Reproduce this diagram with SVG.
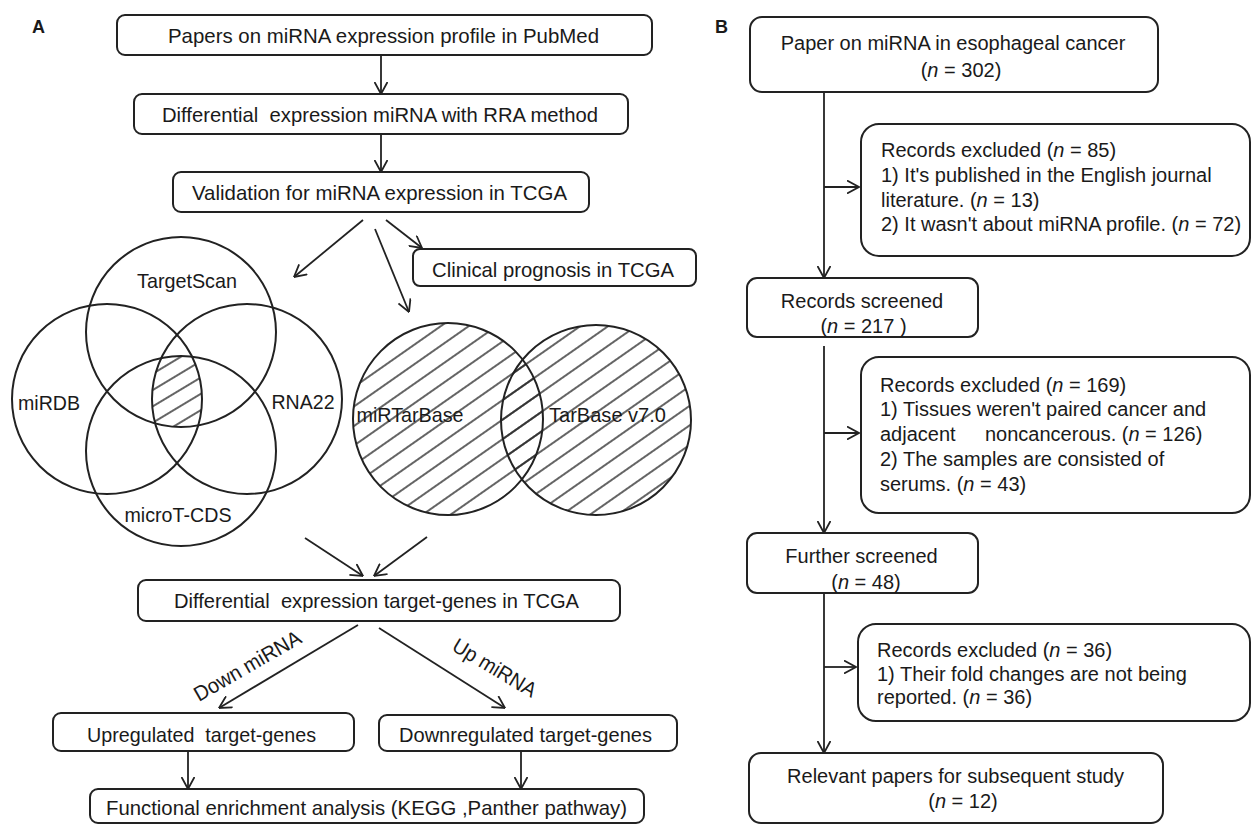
<svg xmlns="http://www.w3.org/2000/svg" width="1252" height="824" viewBox="0 0 1252 824">
<style>
.t{font-family:"Liberation Sans",Arial,sans-serif;font-size:20px;fill:#1a1a1a}
.ta{font-family:"Liberation Sans",Arial,sans-serif;font-size:21px;fill:#1a1a1a}
.m{text-anchor:middle}
.lbl{font-family:"Liberation Sans",Arial,sans-serif;font-size:18px;font-weight:bold;fill:#1a1a1a}
.box{fill:#fff;stroke:#222;stroke-width:2}
.ring{fill:none;stroke:#222;stroke-width:2}
.cn{fill:none;stroke:#222;stroke-width:1.8}
.hl{stroke:#222;stroke-width:1.4}
.i{font-style:italic}
</style>
<defs>
<marker id="ah" markerUnits="userSpaceOnUse" viewBox="0 0 13 14" refX="12.5" refY="7" markerWidth="13" markerHeight="14" orient="auto">
<path d="M0.5,0.5 L12.5,7 L0.5,13.5" fill="none" stroke="#222" stroke-width="1.8"/>
</marker>
<pattern id="hatchA" patternUnits="userSpaceOnUse" width="16" height="16" patternTransform="rotate(-35)">
<line class="hl" x1="0" y1="8" x2="16" y2="8"/>
</pattern>
<pattern id="hatchL" patternUnits="userSpaceOnUse" width="14" height="14" patternTransform="rotate(-31)">
<line class="hl" x1="0" y1="7" x2="14" y2="7"/>
</pattern>
<clipPath id="cT"><circle cx="181" cy="332" r="95"/></clipPath>
<clipPath id="cD"><circle cx="107" cy="399" r="95"/></clipPath>
<clipPath id="cR"><circle cx="247" cy="399" r="95"/></clipPath>
<clipPath id="cM"><circle cx="181" cy="451" r="95"/></clipPath>
</defs>
<rect width="1252" height="824" fill="#fff"/>

<text class="lbl" x="32" y="33">A</text>
<text class="lbl" x="715" y="33">B</text>

<g id="connectors">
<line class="cn" x1="381" y1="55" x2="381" y2="94" marker-end="url(#ah)"/>
<line class="cn" x1="381" y1="134" x2="381" y2="172" marker-end="url(#ah)"/>
<line class="cn" x1="363" y1="220" x2="294" y2="277" marker-end="url(#ah)"/>
<line class="cn" x1="386" y1="220" x2="422" y2="248" marker-end="url(#ah)"/>
<line class="cn" x1="375" y1="229" x2="409" y2="312" marker-end="url(#ah)"/>
<line class="cn" x1="305" y1="538" x2="363" y2="576" marker-end="url(#ah)"/>
<line class="cn" x1="427" y1="537" x2="374" y2="576" marker-end="url(#ah)"/>
<line class="cn" x1="358" y1="625" x2="219" y2="708" marker-end="url(#ah)"/>
<line class="cn" x1="379" y1="628" x2="505" y2="708" marker-end="url(#ah)"/>
<line class="cn" x1="188" y1="751" x2="188" y2="789" marker-end="url(#ah)"/>
<line class="cn" x1="521" y1="751" x2="521" y2="789" marker-end="url(#ah)"/>
<text class="ta m" transform="translate(251,672) rotate(-30)" textLength="120" lengthAdjust="spacingAndGlyphs">Down miRNA</text>
<text class="ta m" transform="translate(491,674) rotate(31)" textLength="94" lengthAdjust="spacingAndGlyphs">Up miRNA</text>

<line class="cn" x1="824" y1="92" x2="824" y2="278" marker-end="url(#ah)"/>
<line class="cn" x1="824" y1="187" x2="859" y2="187" marker-end="url(#ah)"/>
<line class="cn" x1="824" y1="346" x2="824" y2="533" marker-end="url(#ah)"/>
<line class="cn" x1="824" y1="433" x2="859" y2="433" marker-end="url(#ah)"/>
<line class="cn" x1="824" y1="593" x2="824" y2="753" marker-end="url(#ah)"/>
<line class="cn" x1="824" y1="667" x2="856" y2="667" marker-end="url(#ah)"/>
</g>

<g id="a-papers">
<rect class="box" x="117" y="15" width="535" height="40" rx="8"/>
<text class="ta m" x="383.5" y="43" textLength="431" lengthAdjust="spacingAndGlyphs">Papers on miRNA expression profile in PubMed</text>
</g>
<g id="a-rra">
<rect class="box" x="134" y="94" width="494" height="40" rx="8"/>
<text class="ta m" x="380" y="122" textLength="436" lengthAdjust="spacingAndGlyphs">Differential&#160; expression miRNA with RRA method</text>
</g>
<g id="a-validation">
<rect class="box" x="173" y="172" width="416" height="40" rx="8"/>
<text class="ta m" x="379.5" y="200" textLength="375" lengthAdjust="spacingAndGlyphs">Validation for miRNA expression in TCGA</text>
</g>
<g id="a-clinical">
<rect class="box" x="413" y="249" width="283" height="37" rx="7"/>
<text class="ta m" x="553" y="277" textLength="242" lengthAdjust="spacingAndGlyphs">Clinical prognosis in TCGA</text>
</g>

<g id="a-venn4">
<g clip-path="url(#cT)"><g clip-path="url(#cD)"><g clip-path="url(#cR)">
<rect clip-path="url(#cM)" x="140" y="340" width="80" height="100" fill="url(#hatchL)"/>
</g></g></g>
<circle class="ring" cx="181" cy="332" r="95"/>
<circle class="ring" cx="107" cy="399" r="95"/>
<circle class="ring" cx="247" cy="399" r="95"/>
<circle class="ring" cx="181" cy="451" r="95"/>
<text class="ta m" x="187" y="288" textLength="100" lengthAdjust="spacingAndGlyphs">TargetScan</text>
<text class="ta m" x="49" y="410" textLength="62" lengthAdjust="spacingAndGlyphs">miRDB</text>
<text class="ta m" x="303" y="409" textLength="63" lengthAdjust="spacingAndGlyphs">RNA22</text>
<text class="ta m" x="178" y="522" textLength="107" lengthAdjust="spacingAndGlyphs">microT-CDS</text>
</g>

<g id="a-venn2">
<ellipse cx="448" cy="419" rx="95" ry="96" fill="url(#hatchA)"/>
<ellipse cx="596" cy="420" rx="95" ry="95" fill="url(#hatchA)"/>
<ellipse class="ring" cx="448" cy="419" rx="95" ry="96"/>
<ellipse class="ring" cx="596" cy="420" rx="95" ry="95"/>
<text class="ta m" x="410" y="422" textLength="107" lengthAdjust="spacingAndGlyphs">miRTarBase</text>
<text class="ta m" x="607.5" y="422" textLength="117" lengthAdjust="spacingAndGlyphs">TarBase v7.0</text>
</g>

<g id="a-targets">
<rect class="box" x="138" y="580" width="482" height="41" rx="8"/>
<text class="ta m" x="376.5" y="608" textLength="405" lengthAdjust="spacingAndGlyphs">Differential&#160; expression target-genes in TCGA</text>
</g>
<g id="a-up">
<rect class="box" x="53" y="713" width="301" height="38" rx="8"/>
<text class="ta m" x="201.5" y="742" textLength="229" lengthAdjust="spacingAndGlyphs">Upregulated&#160; target-genes</text>
</g>
<g id="a-down">
<rect class="box" x="379" y="715" width="298" height="36" rx="8"/>
<text class="ta m" x="525.5" y="742" textLength="253" lengthAdjust="spacingAndGlyphs">Downregulated target-genes</text>
</g>
<g id="a-functional">
<rect class="box" x="90" y="789" width="554" height="34" rx="8"/>
<text class="ta m" x="366.5" y="815" textLength="521" lengthAdjust="spacingAndGlyphs">Functional enrichment analysis (KEGG ,Panther pathway)</text>
</g>

<g id="b-papers">
<rect class="box" x="750" y="17" width="408" height="75" rx="12"/>
<text class="t m" x="953" y="50">Paper on miRNA in esophageal cancer</text>
<text class="t m" x="961" y="77">(<tspan class="i">n</tspan> = 302)</text>
</g>
<g id="b-excl1">
<rect class="box" x="861" y="124" width="389" height="132" rx="18"/>
<text class="t" x="881" y="157">Records excluded (<tspan class="i">n</tspan> = 85)</text>
<text class="t" x="881" y="182">1) It's published in the English journal</text>
<text class="t" x="881" y="207">literature. (<tspan class="i">n</tspan> = 13)</text>
<text class="t" x="881" y="231">2) It wasn't about miRNA profile. (<tspan class="i">n</tspan> = 72)</text>
</g>
<g id="b-screened">
<rect class="box" x="747" y="278" width="231" height="59" rx="10"/>
<text class="t m" x="862" y="308">Records screened</text>
<text class="t m" x="863.5" y="333">(<tspan class="i">n</tspan> = 217 )</text>
</g>
<g id="b-excl2">
<rect class="box" x="861" y="357" width="389" height="156" rx="18"/>
<text class="t" x="880" y="392">Records excluded (<tspan class="i">n</tspan> = 169)</text>
<text class="t" x="880" y="416">1) Tissues weren't paired cancer and</text>
<text class="t" x="880" y="441">adjacent<tspan x="985">noncancerous. (</tspan><tspan class="i">n</tspan> = 126)</text>
<text class="t" x="880" y="466">2) The samples are consisted of</text>
<text class="t" x="880" y="491">serums. (<tspan class="i">n</tspan> = 43)</text>
</g>
<g id="b-further">
<rect class="box" x="747" y="533" width="231" height="60" rx="10"/>
<text class="t m" x="861.5" y="563">Further screened</text>
<text class="t m" x="866" y="589">(<tspan class="i">n</tspan> = 48)</text>
</g>
<g id="b-excl3">
<rect class="box" x="858" y="624" width="392" height="97" rx="18"/>
<text class="t" x="877" y="657">Records excluded (<tspan class="i">n</tspan> = 36)</text>
<text class="t" x="877" y="681">1) Their fold changes are not being</text>
<text class="t" x="877" y="704">reported. (<tspan class="i">n</tspan> = 36)</text>
</g>
<g id="b-relevant">
<rect class="box" x="749" y="753" width="414" height="70" rx="12"/>
<text class="t m" x="955.5" y="783">Relevant papers for subsequent study</text>
<text class="t m" x="963" y="808">(<tspan class="i">n</tspan> = 12)</text>
</g>
</svg>
